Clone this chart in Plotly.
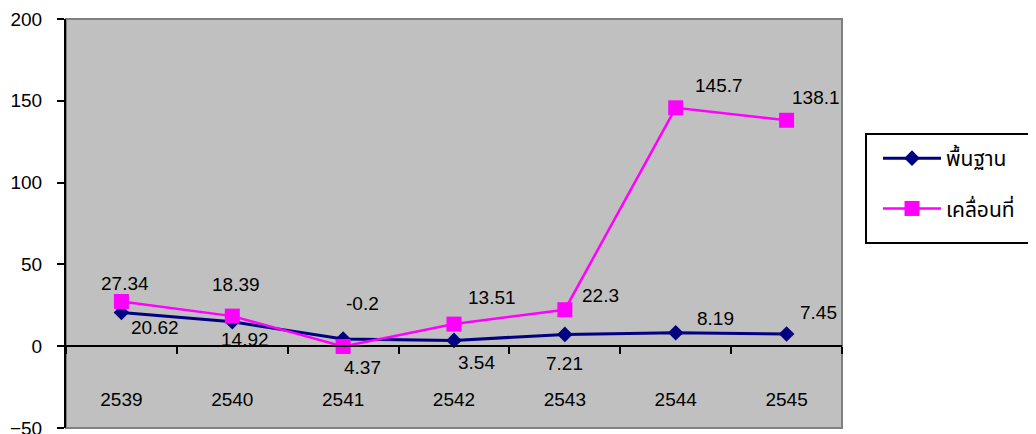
import plotly.graph_objects as go

categories = ["2539", "2540", "2541", "2542", "2543", "2544", "2545"]
base_values = [20.62, 14.92, 4.37, 3.54, 7.21, 8.19, 7.45]
move_values = [27.34, 18.39, -0.2, 13.51, 22.3, 145.7, 138.1]
series_names = ["พื้นฐาน", "เคลื่อนที่"]
y_ticks = [-50, 0, 50, 100, 150, 200]

# pixel offsets of data labels relative to their points (x, y-up)
base_offsets = [(34, -15), (13, -18), (19, -28), (22, -22), (0, -29), (40, 14), (32, 22)]
move_offsets = [(4, 18), (4, 32), (19, 43), (38, 27), (36, 14), (43, 22), (29, 23)]

FONT = "Liberation Sans, Arial, Helvetica, sans-serif"
THAI_FONT = "Noto Sans Thai, Noto Sans Thai Looped, Noto Sans, DejaVu Sans, sans-serif"

# plot area in page pixels
PX0, PX1, PY0, PY1 = 66, 842, 19, 428


def px_x(p):
    return (p - PX0) / (PX1 - PX0)


def px_y(p):
    return (PY1 - p) / (PY1 - PY0)


fig = go.Figure()
fig.add_trace(go.Scatter(
    x=categories, y=base_values, name=series_names[0], mode="lines+markers",
    line=dict(color="#000080", width=3),
    marker=dict(symbol="diamond", size=12, color="#000080"),
    legendgroup="a",
))
fig.add_trace(go.Scatter(
    x=categories, y=move_values, name=series_names[1], mode="lines+markers",
    line=dict(color="#FF00FF", width=2.5),
    marker=dict(symbol="square", size=15, color="#FF00FF"),
    legendgroup="b",
))

for vals, offs in ((base_values, base_offsets), (move_values, move_offsets)):
    for i, (v, (dx, dy)) in enumerate(zip(vals, offs)):
        fig.add_annotation(
            x=i, y=v, xref="x", yref="y", text=str(v), showarrow=False,
            xshift=dx, yshift=dy, font=dict(family=FONT, size=19, color="#000000"),
        )

# plot-area border
fig.add_shape(type="rect", xref="paper", yref="paper", x0=0, y0=0, x1=1, y1=1,
              line=dict(color="#808080", width=2), layer="below")
# legend box
fig.add_shape(type="rect", xref="paper", yref="paper",
              x0=px_x(866), x1=px_x(1032), y0=px_y(243), y1=px_y(134),
              line=dict(color="#000000", width=2), fillcolor="#FFFFFF", layer="above")

# page body has an 8px margin: figure is offset by 8px
fig.update_layout(
    width=1028, height=426,
    margin=dict(l=58, r=194, t=11, b=6, autoexpand=False),
    paper_bgcolor="#FFFFFF",
    plot_bgcolor="#C0C0C0",
    font=dict(family=FONT, size=19, color="#000000"),
    showlegend=True,
    legend=dict(
        x=px_x(878), y=px_y(138), xanchor="left", yanchor="top",
        bgcolor="rgba(0,0,0,0)", borderwidth=0,
        font=dict(family=THAI_FONT, size=21, color="#000000"),
        traceorder="grouped", tracegroupgap=20,
        itemwidth=58,
    ),
    xaxis=dict(
        type="category", range=[-0.5, 6.5], automargin=False,
        anchor="free", position=0.2,
        showline=True, linecolor="#000000", linewidth=2,
        ticks="outside", tickson="boundaries", ticklen=7, tickwidth=2, tickcolor="#000000",
        ticklabelstandoff=36,
        showgrid=False, zeroline=False,
        tickfont=dict(family=FONT, size=19, color="#000000"),
    ),
    yaxis=dict(
        range=[-50, 200], tickmode="array", tickvals=y_ticks, automargin=False,
        showline=True, linecolor="#000000", linewidth=2,
        ticks="outside", ticklen=7, tickwidth=2, tickcolor="#000000",
        ticklabelstandoff=11, ticklabeloverflow="allow",
        showgrid=False, zeroline=False,
        tickfont=dict(family=FONT, size=19, color="#000000"),
    ),
)

fig.write_html("out.html")
